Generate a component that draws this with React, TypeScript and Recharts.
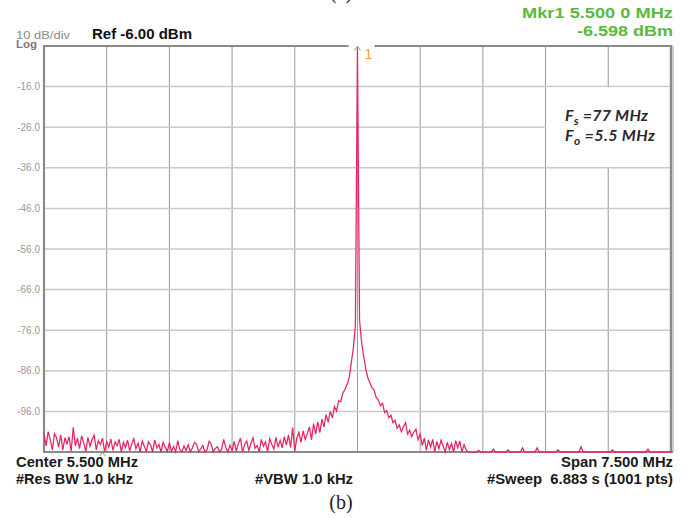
import React from 'react';
import {
  LineChart,
  Line,
  XAxis,
  YAxis,
  CartesianGrid,
  ReferenceArea,
  ReferenceDot,
} from 'recharts';

// sweep: 1.75 .. 9.25 MHz (center 5.5, span 7.5), one reading every 25 kHz
const startFreq = 1.75;
const stepFreq = 0.025;

// trace levels in dBm (bottom of screen = -106)
const levels: number[] = [
  -101.5, -104.5, -101.0, -103.0, -105.5, -101.5, -102.5, -104.8, -101.8, -105.5,
  -102.5, -104.0, -102.2, -105.8, -99.9, -104.5, -102.6, -105.2, -102.0, -103.8,
  -105.9, -102.4, -104.6, -103.0, -101.8, -105.5, -103.2, -104.2, -102.6, -106.0,
  -103.4, -104.8, -102.8, -105.6, -103.5, -104.4, -102.9, -106.0, -103.6, -104.9,
  -103.1, -105.7, -104.0, -102.7, -105.2, -103.8, -106.0, -103.3, -104.6, -105.8,
  -103.5, -104.3, -106.0, -103.0, -105.0, -104.1, -106.0, -103.6, -104.8, -105.9,
  -103.7, -105.8, -104.6, -106.0, -103.2, -105.4, -106.0, -104.5, -105.6, -104.2,
  -106.0, -105.0, -103.6, -104.1, -106.0, -105.2, -104.4, -106.0, -105.5, -103.4,
  -104.0, -106.0, -105.1, -104.7, -106.0, -105.3, -102.9, -104.9, -106.0, -104.3,
  -105.7, -103.4, -105.8, -104.0, -102.6, -106.0, -104.2, -103.3, -105.6, -103.9,
  -102.5, -105.1, -104.4, -106.0, -102.9, -104.6, -103.5, -105.9, -102.7, -104.1,
  -105.3, -102.4, -104.8, -103.1, -105.0, -102.2, -104.3, -101.8, -104.9, -100.0,
  -105.8, -102.5, -101.2, -103.6, -100.8, -102.9, -101.5, -99.8, -103.0, -99.0,
  -101.6, -98.6, -101.2, -97.9, -99.8, -96.8, -98.7, -96.0, -97.6, -94.8,
  -95.9, -93.4, -93.6, -91.5, -90.6, -89.4, -87.8, -84.2, -80.5, -75.0,
  -6.6,
  -73.5, -79.0, -82.5, -85.5, -87.8, -89.0, -90.2, -90.8, -92.6, -93.2,
  -94.6, -94.0, -96.3, -95.8, -97.6, -96.9, -98.8, -98.2, -100.2, -99.3,
  -101.0, -99.8, -98.8, -101.6, -100.6, -102.2, -101.1, -100.4, -103.0, -101.6,
  -104.4, -102.6, -105.6, -103.0, -104.8, -102.9, -106.0, -103.4, -105.2, -103.1,
  -104.5, -106.0, -103.6, -105.4, -103.9, -106.0, -103.2, -104.9, -103.3, -106.0,
  -104.2, -105.5, -106.0, -106.0, -106.0, -106.0, -106.0, -105.6, -106.0, -106.0,
  -106.0, -106.0, -106.0, -106.0, -105.3, -106.0, -106.0, -106.0, -106.0, -106.0,
  -106.0, -105.5, -106.0, -106.0, -106.0, -106.0, -106.0, -106.0, -105.0, -106.0,
  -106.0, -106.0, -106.0, -106.0, -106.0, -105.0, -106.0, -106.0, -106.0, -106.0,
  -106.0, -106.0, -106.0, -106.0, -106.0, -105.5, -106.0, -106.0, -106.0, -106.0,
  -106.0, -106.0, -106.0, -106.0, -106.0, -106.0, -104.7, -106.0, -106.0, -106.0,
  -106.0, -106.0, -106.0, -106.0, -106.0, -106.0, -106.0, -106.0, -106.0, -106.0,
  -106.0, -105.5, -106.0, -106.0, -106.0, -106.0, -106.0, -106.0, -106.0, -106.0,
  -106.0, -106.0, -106.0, -106.0, -106.0, -106.0, -106.0, -106.0, -105.3, -106.0,
  -106.0, -106.0, -106.0, -106.0, -106.0, -106.0, -106.0, -106.0, -106.0, -106.0,
  -106.0,
];

const freqGrid = [1.75, 2.5, 3.25, 4, 4.75, 5.5, 6.25, 7, 7.75, 8.5, 9.25];
const levelTicks = [-16, -26, -36, -46, -56, -66, -76, -86, -96];
const refLevel = -6;
const bottomLevel = -106;

// marker 1
const mkrFreq = 5.5;
const mkrLevel = -6.598;
// small marker caret under the screen
const caretFreq = 2.45;

const data = levels.map((v, i) => ({ f: +(startFreq + i * stepFreq).toFixed(4), v }));

const sans = '"Liberation Sans", Arial, sans-serif';
const green = '#5cb83e';

const MarkerShape = ({ cx, cy }: any) => (
  <g>
    <rect x={cx - 9} y={cy - 6} width={26} height={4.5} fill="#fff" />
    <path d={`M${cx - 3},${cy + 2} L${cx},${cy - 2} L${cx + 3},${cy + 2}`} stroke={green} strokeWidth={1} fill="none" />
    <text x={cx + 7} y={cy + 11} fill="#f0a040" fontSize={14} fontFamily={sans}>1</text>
  </g>
);

const CaretShape = ({ cx, cy }: any) => (
  <path d={`M${cx - 3},${cy + 4} L${cx},${cy + 0.5} L${cx + 3},${cy + 4}`} stroke={green} strokeWidth={1} fill="none" />
);

export default function App() {
  return (
    <div style={{ position: 'absolute', left: 0, top: 0, width: 698, height: 518, background: '#fff' }}>
      <LineChart width={698} height={518} data={data} margin={{ top: 46, right: 25, bottom: 66, left: 0 }}>
        <XAxis dataKey="f" type="number" domain={[startFreq, 9.25]} ticks={freqGrid} hide />
        <YAxis
          type="number"
          domain={[bottomLevel, refLevel]}
          ticks={levelTicks}
          interval={0}
          width={44}
          axisLine={false}
          tickLine={false}
          tickSize={0}
          tickMargin={4}
          tick={{ fill: '#9a9a9a', fontSize: 10, fontFamily: sans }}
          tickFormatter={(v: number) => v.toFixed(1)}
        />
        <CartesianGrid horizontal={false} stroke="#989898" strokeWidth={1} />
        <CartesianGrid vertical={false} stroke="#cacaca" strokeWidth={1.5} />
        <ReferenceArea x1={7.76} x2={9.24} y1={-35.8} y2={-16.2} fill="#fff" fillOpacity={1} stroke="none" />
        <ReferenceArea x1={startFreq} x2={9.25} y1={bottomLevel} y2={refLevel} fill="none" stroke="#8a8a8a" strokeWidth={2.2} />
        <Line
          type="linear"
          dataKey="v"
          stroke="#e6245e"
          strokeWidth={1.25}
          dot={false}
          isAnimationActive={false}
        />
        <ReferenceDot x={mkrFreq} y={mkrLevel} shape={MarkerShape} />
        <ReferenceDot x={caretFreq} y={bottomLevel} shape={CaretShape} />
      </LineChart>

      <svg width={698} height={518} style={{ position: 'absolute', left: 0, top: 0, pointerEvents: 'none' }}>
        <text x={341} y={-1.5} fontSize={20} fontFamily='"Liberation Serif", serif' textAnchor="middle" fill="#222">(a)</text>

        <text x={16} y={38.5} fontSize={11} fontFamily={sans} fill="#8a8a8a" textLength={54} lengthAdjust="spacingAndGlyphs">10 dB/div</text>
        <text x={16} y={48} fontSize={11.5} fontWeight="bold" fontFamily={sans} fill="#7a7a7a">Log</text>
        <text x={92} y={39} fontSize={14} fontWeight="bold" fontFamily={sans} fill="#111" textLength={100} lengthAdjust="spacingAndGlyphs">Ref -6.00 dBm</text>

        <text x={673} y={18} fontSize={15.5} fontWeight="bold" fontFamily={sans} fill={green} textAnchor="end" textLength={151} lengthAdjust="spacingAndGlyphs">Mkr1 5.500 0 MHz</text>
        <text x={673} y={36} fontSize={15.5} fontWeight="bold" fontFamily={sans} fill={green} textAnchor="end" textLength={96} lengthAdjust="spacingAndGlyphs">-6.598 dBm</text>

        <text x={565} y={120.5} fontSize={16} fontStyle="italic" fontWeight="bold" fontFamily="Lato, sans-serif" fill="#2a2a2a" textLength={83} lengthAdjust="spacing">
          F<tspan fontSize={12} dy={4}>s</tspan><tspan dy={-4}> =77 MHz</tspan>
        </text>
        <text x={565} y={141} fontSize={16} fontStyle="italic" fontWeight="bold" fontFamily="Lato, sans-serif" fill="#2a2a2a" textLength={90} lengthAdjust="spacing">
          F<tspan fontSize={12} dy={4}>o</tspan><tspan dy={-4}> =5.5 MHz</tspan>
        </text>

        <text x={16} y={467} fontSize={14.5} fontWeight="bold" fontFamily={sans} fill="#1a1a1a" textLength={122} lengthAdjust="spacingAndGlyphs">Center 5.500 MHz</text>
        <text x={16} y={484} fontSize={14.5} fontWeight="bold" fontFamily={sans} fill="#1a1a1a" textLength={117} lengthAdjust="spacingAndGlyphs">#Res BW 1.0 kHz</text>
        <text x={255} y={484} fontSize={14.5} fontWeight="bold" fontFamily={sans} fill="#1a1a1a" textLength={98} lengthAdjust="spacingAndGlyphs">#VBW 1.0 kHz</text>
        <text x={673} y={467} fontSize={14.5} fontWeight="bold" fontFamily={sans} fill="#1a1a1a" textAnchor="end" textLength={112} lengthAdjust="spacingAndGlyphs">Span 7.500 MHz</text>
        <text x={673} y={484} fontSize={14.5} fontWeight="bold" fontFamily={sans} fill="#1a1a1a" textAnchor="end" textLength={186} lengthAdjust="spacingAndGlyphs" xmlSpace="preserve">#Sweep  6.883 s (1001 pts)</text>

        <text x={341} y={509} fontSize={20} fontFamily='"Liberation Serif", serif' textAnchor="middle" fill="#222">(b)</text>
      </svg>
    </div>
  );
}
